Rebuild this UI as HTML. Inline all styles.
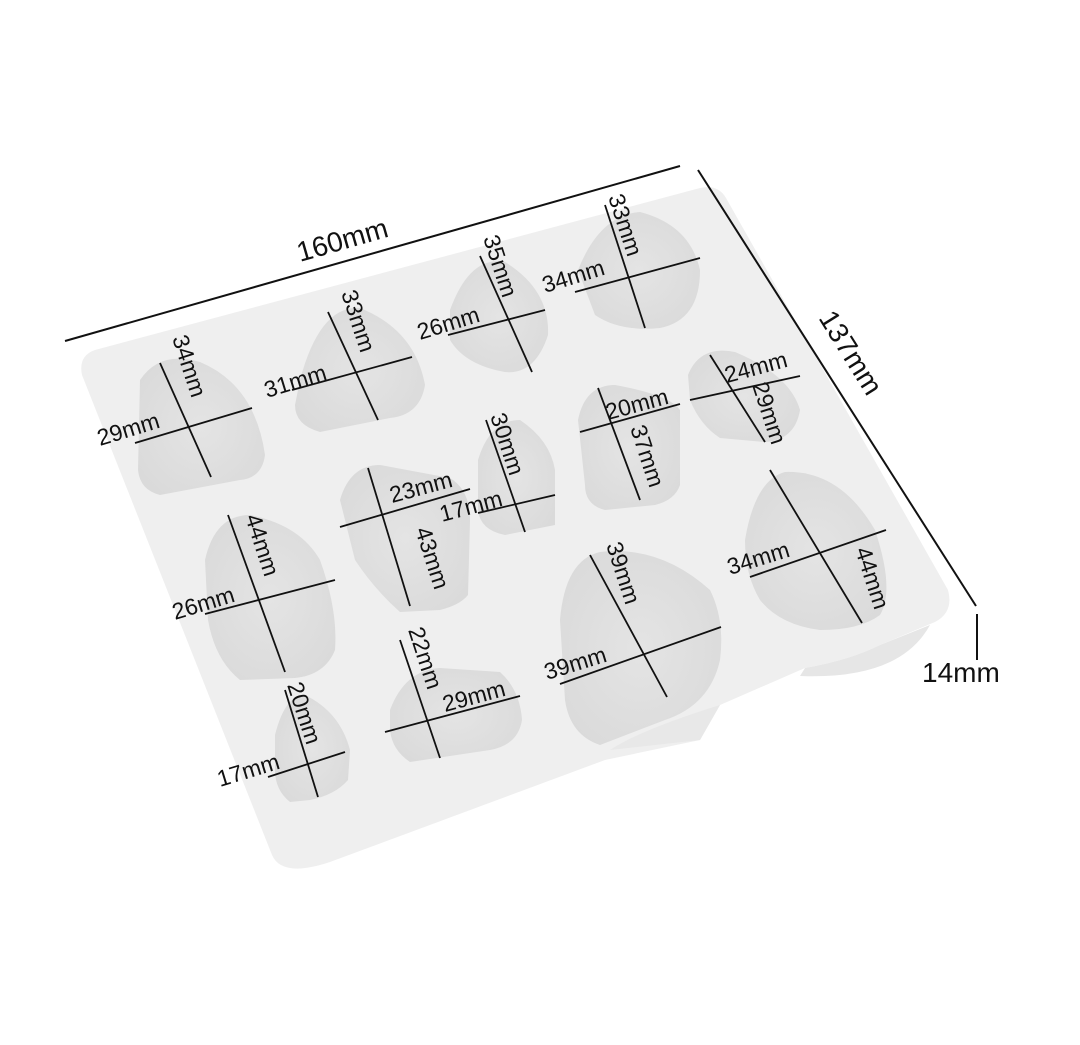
<!DOCTYPE html>
<html><head><style>
html,body{margin:0;padding:0;background:#fff;}
svg{display:block;}
text{font-family:"Liberation Sans",sans-serif;font-size:23px;fill:#111;}
</style></head><body>
<svg width="1080" height="1045" viewBox="0 0 1080 1045">
<defs>
<radialGradient id="cg" cx="50%" cy="50%" r="60%">
<stop offset="0" stop-color="#e4e4e4"/><stop offset="1" stop-color="#dadada"/>
</radialGradient>
</defs>
<path d="M95 350 L700 188 Q718 184 726 198 L948 590 Q954 612 935 622 L880 645 Q850 660 805 668 L720 705 L700 740 L605 760 L330 862 Q282 878 272 855 L82 375 Q78 356 95 350 Z" fill="#efefef"/>
<path d="M805 668 Q850 660 880 645 L930 625 Q900 680 800 676 Z" fill="#e6e6e6"/>
<path d="M720 705 L700 740 L610 750 Q640 730 720 705Z" fill="#e8e8e8"/>
<g fill="url(#cg)">
<path d="M140 380 Q160 350 200 362 Q255 385 265 455 Q262 478 240 480 L160 495 Q140 490 138 470 Z"/>
<path d="M300 380 Q320 305 360 308 Q415 330 425 385 Q420 415 390 418 L320 432 Q295 425 295 405 Z"/>
<path d="M450 310 Q470 255 505 262 Q550 290 548 335 Q535 375 505 372 Q465 365 450 340 Z"/>
<path d="M578 270 Q600 215 640 212 Q690 225 700 270 Q700 320 660 328 Q620 332 595 315 Z"/>
<path d="M688 375 Q700 345 735 352 Q790 375 800 410 Q795 440 765 442 L720 438 Q700 425 690 400 Z"/>
<path d="M578 420 Q585 385 615 385 Q670 395 680 410 L680 485 Q675 500 655 505 L605 510 Q585 505 585 485 Z"/>
<path d="M478 460 Q490 420 520 420 Q550 440 555 470 L555 525 L505 535 Q480 530 478 510 Z"/>
<path d="M340 500 Q350 465 380 465 L450 478 Q470 490 470 520 L468 595 Q460 605 440 610 L400 612 Q375 590 355 560 Z"/>
<path d="M205 560 Q215 515 250 515 Q300 525 320 560 Q338 610 335 650 Q325 675 295 678 L240 680 Q215 660 208 620 Z"/>
<path d="M275 735 Q285 695 305 695 Q340 712 350 750 L348 780 Q335 795 310 800 L290 802 Q275 790 275 770 Z"/>
<path d="M390 710 Q405 670 440 668 L500 672 Q520 690 522 720 Q518 745 490 750 L410 762 Q392 750 390 730 Z"/>
<path d="M560 620 Q565 560 600 552 Q660 545 710 590 Q725 620 720 660 Q710 705 665 720 L600 745 Q570 735 565 700 Z"/>
<path d="M745 540 Q755 480 785 472 Q840 470 875 530 Q895 590 880 615 Q860 630 820 630 Q780 625 760 600 Q745 575 745 540 Z"/>
</g>
<g stroke="#111" stroke-width="2" fill="none">
<line x1="65" y1="341" x2="680" y2="166"/>
<line x1="698" y1="170" x2="976" y2="606"/>
<line x1="977" y1="614" x2="977" y2="660"/>
</g>
<g stroke="#111" stroke-width="1.8">
<line x1="160" y1="363" x2="211" y2="477"/><line x1="135" y1="443" x2="252" y2="408"/>
<line x1="328" y1="312" x2="378" y2="420"/><line x1="292" y1="390" x2="412" y2="357"/>
<line x1="480" y1="256" x2="532" y2="372"/><line x1="448" y1="335" x2="545" y2="310"/>
<line x1="605" y1="205" x2="645" y2="328"/><line x1="575" y1="292" x2="700" y2="258"/>
<line x1="710" y1="355" x2="765" y2="442"/><line x1="690" y1="400" x2="800" y2="376"/>
<line x1="598" y1="388" x2="640" y2="500"/><line x1="580" y1="432" x2="680" y2="404"/>
<line x1="486" y1="420" x2="525" y2="532"/><line x1="478" y1="513" x2="555" y2="495"/>
<line x1="368" y1="468" x2="410" y2="606"/><line x1="340" y1="527" x2="470" y2="489"/>
<line x1="228" y1="515" x2="285" y2="672"/><line x1="205" y1="614" x2="335" y2="580"/>
<line x1="285" y1="690" x2="318" y2="797"/><line x1="268" y1="777" x2="345" y2="752"/>
<line x1="400" y1="640" x2="440" y2="758"/><line x1="385" y1="732" x2="520" y2="696"/>
<line x1="590" y1="555" x2="667" y2="697"/><line x1="560" y1="684" x2="721" y2="627"/>
<line x1="770" y1="470" x2="862" y2="623"/><line x1="750" y1="577" x2="886" y2="530"/>
</g>
<text x="300" y="262" style="font-size:28px" transform="rotate(-16 300 262)">160mm</text>
<text x="818" y="318" style="font-size:28px" transform="rotate(58 818 318)">137mm</text>
<text x="922" y="682" style="font-size:28px">14mm</text>
<g>
<text x="172" y="338" transform="rotate(72 172 338)">34mm</text>
<text x="100" y="446" transform="rotate(-17 100 446)">29mm</text>
<text x="341" y="293" transform="rotate(72 341 293)">33mm</text>
<text x="267" y="398" transform="rotate(-17 267 398)">31mm</text>
<text x="483" y="238" transform="rotate(72 483 238)">35mm</text>
<text x="420" y="340" transform="rotate(-17 420 340)">26mm</text>
<text x="608" y="197" transform="rotate(72 608 197)">33mm</text>
<text x="545" y="293" transform="rotate(-17 545 293)">34mm</text>
<text x="727" y="383" transform="rotate(-15 727 383)">24mm</text>
<text x="752" y="385" transform="rotate(72 752 385)">29mm</text>
<text x="608" y="420" transform="rotate(-15 608 420)">20mm</text>
<text x="630" y="428" transform="rotate(72 630 428)">37mm</text>
<text x="490" y="416" transform="rotate(72 490 416)">30mm</text>
<text x="442" y="522" transform="rotate(-15 442 522)">17mm</text>
<text x="392" y="503" transform="rotate(-15 392 503)">23mm</text>
<text x="415" y="530" transform="rotate(72 415 530)">43mm</text>
<text x="245" y="517" transform="rotate(72 245 517)">44mm</text>
<text x="175" y="620" transform="rotate(-17 175 620)">26mm</text>
<text x="287" y="685" transform="rotate(72 287 685)">20mm</text>
<text x="220" y="787" transform="rotate(-17 220 787)">17mm</text>
<text x="408" y="630" transform="rotate(72 408 630)">22mm</text>
<text x="445" y="712" transform="rotate(-15 445 712)">29mm</text>
<text x="606" y="545" transform="rotate(72 606 545)">39mm</text>
<text x="547" y="680" transform="rotate(-17 547 680)">39mm</text>
<text x="730" y="575" transform="rotate(-17 730 575)">34mm</text>
<text x="855" y="550" transform="rotate(72 855 550)">44mm</text>
</g>
</svg>
</body></html>
